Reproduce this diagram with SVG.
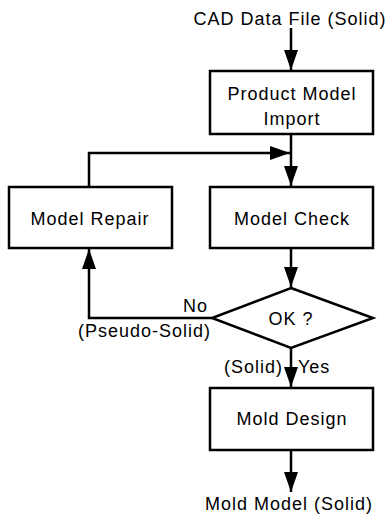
<svg xmlns="http://www.w3.org/2000/svg" width="389" height="524" viewBox="0 0 389 524">
  <style>
    .box { fill: #fff; stroke: #000; stroke-width: 2.5; }
    .line { fill: none; stroke: #000; stroke-width: 2.5; }
    text { font-family: "Liberation Sans", Arial, sans-serif; font-size: 18px; letter-spacing: 1px; fill: #000; }
    .c { text-anchor: middle; }
  </style>
  <defs>
    <marker id="arrowLong" markerWidth="20" markerHeight="14" refX="20" refY="7" orient="auto" markerUnits="userSpaceOnUse" viewBox="0 0 20 14">
      <path d="M0,0 L20,7 L0,14 Z" fill="#000"/>
    </marker>
  </defs>
  <rect width="389" height="524" fill="#fff"/>

  <!-- connectors -->
  <g id="connectors">
    <line class="line" x1="291" y1="28" x2="291" y2="70" marker-end="url(#arrowLong)"/>
    <line class="line" x1="291" y1="135" x2="291" y2="186" marker-end="url(#arrowLong)"/>
    <polyline class="line" points="89,187 89,153 290,153" marker-end="url(#arrowLong)"/>
    <line class="line" x1="291" y1="248" x2="291" y2="287" marker-end="url(#arrowLong)"/>
    <polyline class="line" points="212,318 89,318 89,249" marker-end="url(#arrowLong)"/>
    <line class="line" x1="291" y1="348" x2="291" y2="387" marker-end="url(#arrowLong)"/>
    <line class="line" x1="291" y1="450" x2="291" y2="492" marker-end="url(#arrowLong)"/>
  </g>

  <!-- terminal labels -->
  <text id="input" class="c" x="290" y="25">CAD Data File (Solid)</text>
  <text id="output" class="c" x="289" y="510">Mold Model (Solid)</text>

  <g id="import">
    <rect class="box" x="210" y="71" width="163" height="63"/>
    <text class="c" x="292" y="100">Product Model</text>
    <text class="c" x="292" y="125">Import</text>
  </g>

  <g id="repair">
    <rect class="box" x="9" y="187" width="163" height="61"/>
    <text class="c" x="90" y="225">Model Repair</text>
  </g>

  <g id="check">
    <rect class="box" x="210" y="187" width="163" height="61"/>
    <text class="c" x="292" y="225">Model Check</text>
  </g>

  <g id="decision">
    <polygon class="box" points="291,288 373,318 291,348 212,318"/>
    <text class="c" x="291" y="325">OK ?</text>
  </g>

  <g id="labels">
    <text x="183" y="312">No</text>
    <text x="78" y="337">(Pseudo-Solid)</text>
    <text x="224" y="373">(Solid)</text>
    <text x="298" y="373">Yes</text>
  </g>

  <g id="design">
    <rect class="box" x="210" y="388" width="163" height="62"/>
    <text class="c" x="292" y="425">Mold Design</text>
  </g>
</svg>
